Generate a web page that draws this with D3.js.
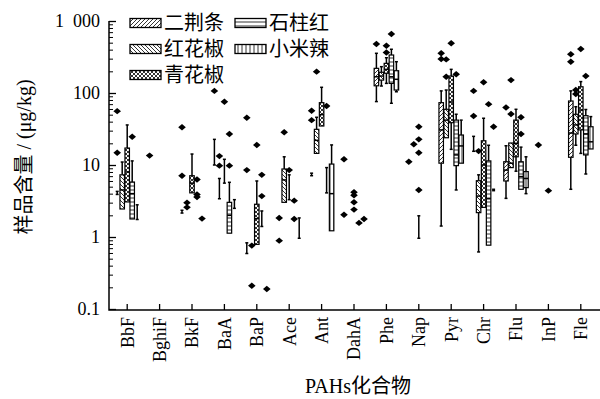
<!DOCTYPE html>
<html>
<head>
<meta charset="utf-8">
<script src="https://cdn.jsdelivr.net/npm/d3@7"></script>
<style>
  body { margin: 0; background: #fff; }
  text { font-family: "Liberation Serif", "Noto Sans CJK SC", serif; fill: #000; }
</style>
</head>
<body>
<svg id="chart" width="600" height="399"></svg>
<script>
// categories and series
var categories = ["BbF", "BghiF", "BkF", "BaA", "BaP", "Ace", "Ant", "DahA", "Phe", "Nap", "Pyr", "Chr", "Flu", "InP", "Fle"];
var seriesNames = ["二荆条", "红花椒", "青花椒", "石柱红", "小米辣"];
var yTicks = [0.1, 1, 10, 100, 1000];
var yTickLabels = ["0.1", "1", "10", "100", "1\u2002000"];

// [min, q1, median, q3, max] per category, null = nothing; q1/q3 null = range only
var boxErjingtiao = [[3.9,null,null,null,4.3], null, [2.15,null,null,null,2.35], [10,null,null,null,22.7], [0.59,null,null,null,0.83], null, [7.1,null,null,null,7.7], null, [76,126,168,220,356], null, [1.42,10.6,30.7,73.4,107], [15.5,null,null,null,25], [3.44,6.0,8.5,11.1,18.5], null, [4.6,12.8,27.8,77.4,107]];
var boxHonghuajiao = [[2.45,2.45,4.5,7.3,11], null, null, [3.4,null,null,null,6.5], null, [3.03,3.03,6.2,8.8,13], [14.5,14.5,22,31.3,46], null, [125,151,172,194,232], null, [23.9,23.9,42,59.4,110], [0.62,2.18,3.7,6.05,7.3], [9.2,9.2,10.6,20.2,20.2], null, [18.8,27,36,50.6,64.5]];
var boxQinghuajiao = [[3.07,3.07,8,17.2,36], null, [4.1,4.1,5.6,7.1,14.2], [5.6,null,null,null,12], [0.79,0.79,1.8,2.85,6.0], [3.3,null,null,null,7.3], [34.8,34.8,50,73.4,120], null, [136,188,213,258,309], [0.96,null,null,null,1.97], [16.5,38.7,75,172,213], [2.58,2.58,10,21.7,44.6], [8.2,13,20,42,59.4], null, [14.5,30.7,58,122,144]];
var boxShizhuhong = [[1.78,1.78,4,5.8,11.4], null, null, [1.13,1.13,2.0,3.03,5.75], [1.4,null,null,null,2.3], null, [4.1,null,null,null,9.2], null, [72,136,168,337,405], null, [4.5,9.8,13.8,42,50.7], [0.77,0.77,3.4,11.4,18.8], [4.6,4.6,6.9,11.1,17.7], null, [7.5,13.8,27,48.4,59]];
var boxXiaomila = [[1.75,null,null,null,2.8], null, null, [2.5,null,null,null,3.3], null, [0.96,null,null,null,1.84], [1.22,1.22,4,10.3,19], null, [104,110,155,204,272], null, [10.6,10.6,18.4,26.1,42], [4.4,null,null,null,4.6], [4.0,4.85,6.5,8.1,13], null, [16.7,16.7,21,34,47]];

// outliers per category
var outErjingtiao = [[56,14.8], [13.5], [33.4,7.1], [107], [45.4,8.5], [1.84,0.89], [56.8,42], [12,2.04], [479], [11.1], [356,297], [107,48], [63], [19], [345,272]];
var outHonghuajiao = [[], [], [3.0,2.58], [13.3,9.8], [0.76,0.21], [28.5], [198], [], [], [19.4], [293,168], [15.6], [151,51], [], [110,97]];
var outQinghuajiao = [[], [], [], [75.7], [19], [8.5], [], [4.2,3.8,3.04,2.4], [454,366], [34,22.7,14.8,4.5], [490], [141], [], [4.4], [408]];
var outShizhuhong = [[24.7], [], [6.3,3.9,3.6], [26.9,9.8], [7.3,3.7], [3.2,1.78], [66], [1.57], [660], [], [182], [70], [46,27], [], [172]];
var outXiaomila = [[], [], [1.8], [], [0.19], [], [], [1.78], [], [], [], [34], [], [], []];

var boxes = [boxErjingtiao, boxHonghuajiao, boxQinghuajiao, boxShizhuhong, boxXiaomila];
var outliers = [outErjingtiao, outHonghuajiao, outQinghuajiao, outShizhuhong, outXiaomila];

var svg = d3.select("#chart");
var mLeft = 109, mBottom = 310, mTop = 21, mRight = 600;

// hatch patterns, one per series
var defs = svg.append("defs");
var hatch = [
  "M-1,1 l2,-2 M0,4 l4,-4 M3,5 l2,-2",
  "M-1,3 l2,2 M0,0 l4,4 M3,-1 l2,2",
  "M0,0 l4,4 M4,0 l-4,4",
  "M0,2 h4",
  "M2,0 v4"
];
hatch.forEach(function(d, i) {
  var p = defs.append("pattern")
    .attr("id", "pat" + i)
    .attr("patternUnits", "userSpaceOnUse")
    .attr("width", 4).attr("height", 4);
  p.append("rect").attr("width", 4).attr("height", 4).attr("fill", "#fff");
  p.append("path").attr("d", d).attr("stroke", "#000").attr("stroke-width", 0.8);
});

// scales
var x = d3.scaleBand().domain(categories).range([111, 597]).padding(0);
var off = d3.scalePoint().domain(seriesNames).range([-10, 10]);
var y = d3.scaleLog().domain([0.1, 1000]).range([mBottom - 1, mTop]);

// Y axis, major ticks inside
var yAxis = svg.append("g")
  .attr("transform", "translate(" + mLeft + ",0)")
  .call(d3.axisLeft(y).tickValues(yTicks).tickSizeInner(-7).tickSizeOuter(0).tickPadding(9)
    .tickFormat(function(d, i) { return yTickLabels[i]; }));
yAxis.select(".domain").remove();
yAxis.selectAll("line").attr("stroke", "#000").attr("stroke-width", 1.3);
yAxis.selectAll("text").style("font-size", "18px");

// minor ticks
var minor = [];
yTicks.slice(0, 4).forEach(function(t) { for (var k = 2; k < 10; k++) minor.push(t * k); });
var yMinor = svg.append("g")
  .attr("transform", "translate(" + mLeft + ",0)")
  .call(d3.axisLeft(y).tickValues(minor).tickSizeInner(-4).tickSizeOuter(0).tickFormat(""));
yMinor.select(".domain").remove();
yMinor.selectAll("line").attr("stroke", "#000").attr("stroke-width", 1);

// X axis, ticks inside
var xAxis = svg.append("g")
  .attr("transform", "translate(0," + mBottom + ")")
  .call(d3.axisBottom(x).tickSizeInner(-6).tickSizeOuter(0));
xAxis.select(".domain").remove();
xAxis.selectAll("line").attr("stroke", "#000").attr("stroke-width", 1.3);
xAxis.selectAll("text")
  .style("font-size", "18px")
  .attr("transform", "rotate(-90)")
  .attr("x", -7).attr("y", 0).attr("dy", "0.35em")
  .style("text-anchor", "end");

// axis lines
svg.append("path")
  .attr("d", "M" + mLeft + "," + mTop + "V" + mBottom + "H" + mRight)
  .attr("fill", "none").attr("stroke", "#000").attr("stroke-width", 1.5);

// boxes
var plot = svg.append("g");
var bw = 4.5, cap = 3;
boxes.forEach(function(arr, s) {
  var name = seriesNames[s];
  arr.forEach(function(b, i) {
    var cx = x(categories[i]) + x.bandwidth() / 2 + off(name);
    if (b) {
      var g = plot.append("g");
      var hasBox = b[1] !== null;
      if (hasBox) {
        if (b[4] > b[3]) g.append("line").attr("x1", cx).attr("x2", cx).attr("y1", y(b[3])).attr("y2", y(b[4]));
        if (b[0] < b[1]) g.append("line").attr("x1", cx).attr("x2", cx).attr("y1", y(b[1])).attr("y2", y(b[0]));
        if (b[4] > b[3]) g.append("line").attr("x1", cx - cap / 2).attr("x2", cx + cap / 2).attr("y1", y(b[4])).attr("y2", y(b[4]));
        if (b[0] < b[1]) g.append("line").attr("x1", cx - cap / 2).attr("x2", cx + cap / 2).attr("y1", y(b[0])).attr("y2", y(b[0]));
        g.append("rect")
          .attr("x", cx - bw / 2).attr("width", bw)
          .attr("y", y(b[3])).attr("height", y(b[1]) - y(b[3]))
          .attr("fill", "url(#pat" + s + ")")
          .attr("stroke", "#000").attr("stroke-width", 1.2);
        g.append("line").attr("x1", cx - bw / 2).attr("x2", cx + bw / 2).attr("y1", y(b[2])).attr("y2", y(b[2]));
      } else {
        g.append("line").attr("x1", cx).attr("x2", cx).attr("y1", y(b[0])).attr("y2", y(b[4]));
        g.append("line").attr("x1", cx - cap / 2).attr("x2", cx + cap / 2).attr("y1", y(b[4])).attr("y2", y(b[4]));
        g.append("line").attr("x1", cx - cap / 2).attr("x2", cx + cap / 2).attr("y1", y(b[0])).attr("y2", y(b[0]));
      }
      g.selectAll("line").attr("stroke", "#000").attr("stroke-width", 1.5);
    }
    outliers[s][i].forEach(function(v) {
      plot.append("path")
        .attr("d", "M0,-3.2L3.8,0L0,3.2L-3.8,0Z")
        .attr("transform", "translate(" + cx + "," + y(v) + ")")
        .attr("fill", "#000");
    });
  });
});

// legend
var legendPos = [[130, 23], [130, 49], [130, 75], [235, 23], [235, 49]];
seriesNames.forEach(function(name, s) {
  var p = legendPos[s];
  svg.append("rect")
    .attr("x", p[0]).attr("y", p[1] - 4.5).attr("width", 31).attr("height", 9)
    .attr("fill", "url(#pat" + s + ")").attr("stroke", "#000").attr("stroke-width", 1.3);
  svg.append("text")
    .attr("x", p[0] + 34).attr("y", p[1]).attr("dy", "0.36em")
    .style("font-size", "20px").text(name);
});

// axis titles
svg.append("text")
  .attr("transform", "translate(24,157) rotate(-90)")
  .attr("dy", "0.35em")
  .style("text-anchor", "middle").style("font-size", "20px")
  .text("样品含量 / (μg/kg)");
svg.append("text")
  .attr("x", 358).attr("y", 393)
  .style("text-anchor", "middle").style("font-size", "20px")
  .text("PAHs化合物");
</script>
</body>
</html>
